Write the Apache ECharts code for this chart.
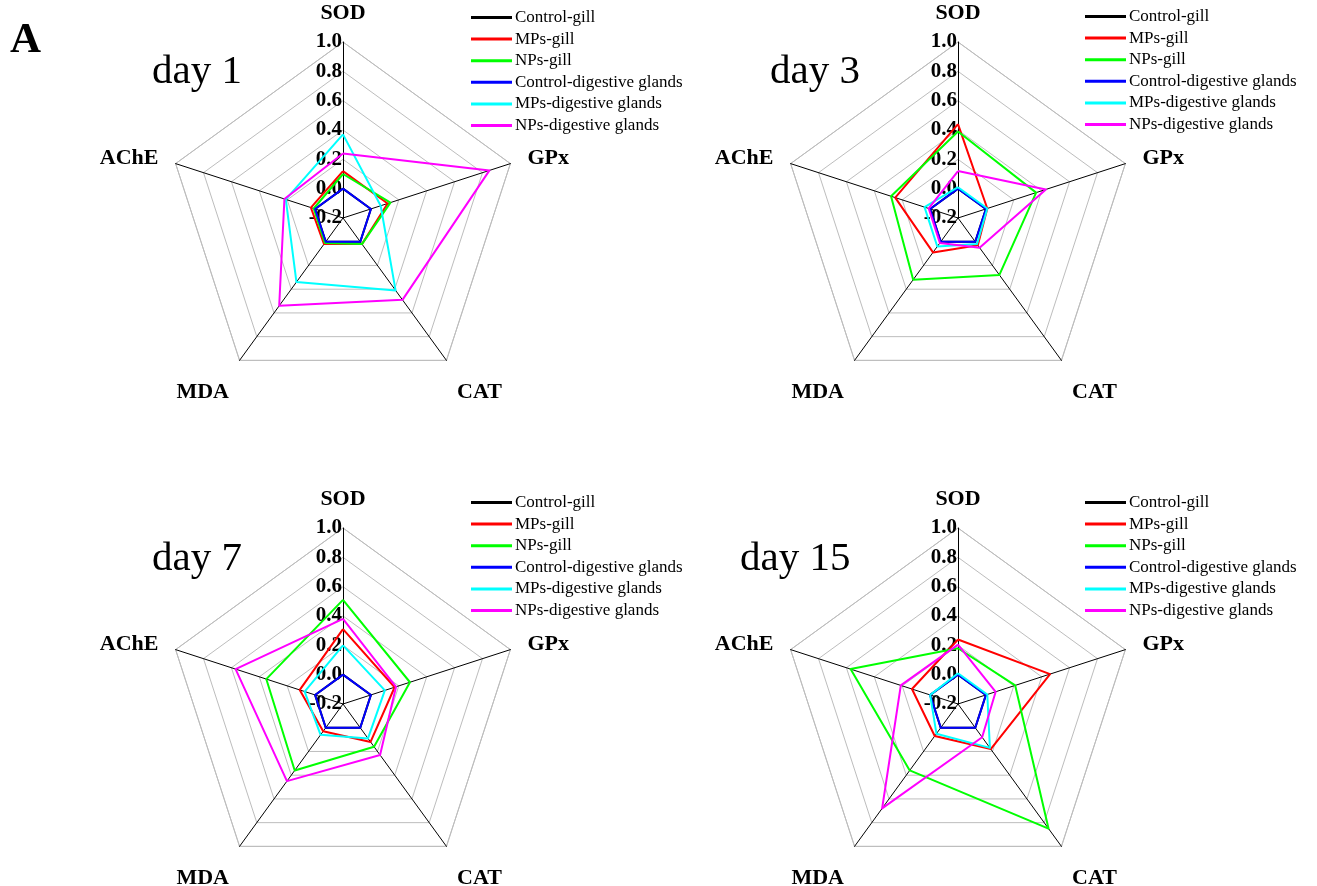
<!DOCTYPE html>
<html><head><meta charset="utf-8">
<script src="https://cdn.jsdelivr.net/npm/echarts@6/dist/echarts.min.js"></script>
<style>html,body{margin:0;padding:0;background:#fff}#c{width:1317px;height:886px}</style>
</head><body><div id="c"></div>
<script>
// indicator order as drawn by ECharts (counter-clockwise from top)
const indicators = ['SOD', 'AChE', 'MDA', 'CAT', 'GPx'];
const groups = ['Control-gill', 'MPs-gill', 'NPs-gill', 'Control-digestive glands', 'MPs-digestive glands', 'NPs-digestive glands'];
const groupColors = ['#000000', '#ff0000', '#00ff00', '#0000ff', '#00ffff', '#ff00ff'];
const days = ['day 1', 'day 3', 'day 7', 'day 15'];
const tickLabels = ['-0.2', '0.0', '0.2', '0.4', '0.6', '0.8', '1.0'];

// values per group in order [SOD, AChE, MDA, CAT, GPx]
const day1 = [
  [0, 0, 0, 0, 0],
  [0.12, 0.03, 0.02, 0.02, 0.12],
  [0.10, 0.01, 0.01, 0.02, 0.14],
  [0, 0, 0, 0, 0],
  [0.37, 0.21, 0.34, 0.41, 0.07],
  [0.24, 0.22, 0.54, 0.49, 0.85]
];
const day3 = [
  [0, 0, 0, 0, 0],
  [0.44, 0.25, 0.09, 0.03, 0.01],
  [0.39, 0.28, 0.32, 0.28, 0.36],
  [0, 0, 0, 0, 0],
  [0.01, 0.04, 0.04, 0.02, 0.01],
  [0.12, 0.01, 0.01, 0.05, 0.43]
];
const day7 = [
  [0, 0, 0, 0, 0],
  [0.31, 0.11, 0.03, 0.12, 0.17],
  [0.51, 0.35, 0.36, 0.16, 0.28],
  [0, 0, 0, 0, 0],
  [0.20, 0.075, 0.06, 0.09, 0.10],
  [0.38, 0.57, 0.45, 0.23, 0.18]
];
const day15 = [
  [0, 0, 0, 0, 0],
  [0.24, 0.13, 0.07, 0.18, 0.46],
  [0.18, 0.57, 0.36, 0.85, 0.21],
  [0, 0, 0, 0, 0],
  [0.01, 0.0, 0.05, 0.17, 0.01],
  [0.205, 0.21, 0.68, 0.08, 0.07]
];
const allDays = [day1, day3, day7, day15];

const SERIF = '"Liberation Serif", "Times New Roman", serif';
const centers = [[343, 218], [958, 218], [343, 704], [958, 704]];
const titlePos = [[152, 52], [770, 52], [152, 539], [740, 539]];
const legendPos = [[471, 9], [1085, 8], [471, 494], [1085, 494]];

const nameStyle = { color: '#000', fontFamily: SERIF, fontWeight: 'bold', fontSize: 22 };

const radars = centers.map(function (c) {
  return {
    center: c,
    radius: 176,
    startAngle: 90,
    shape: 'polygon',
    splitNumber: 6,
    axisNameGap: 18,
    indicator: indicators.map(function (n, i) {
      const ind = { name: n, min: -0.2, max: 1.0 };
      if (i === 0) {
        ind.axisLabel = {
          show: true, showMinLabel: true, showMaxLabel: true,
          color: '#000', fontFamily: SERIF, fontWeight: 'bold', fontSize: 21,
          margin: 1, padding: [5, 0, 0, 0],
          formatter: function (v) { return tickLabels[Math.round((v + 0.2) / 0.2)]; }
        };
      }
      return ind;
    }),
    axisName: {
      color: '#000', fontFamily: SERIF, fontWeight: 'bold', fontSize: 22,
      formatter: function (name) {
        return (name === 'MDA' || name === 'CAT') ? '{low|' + name + '}' : '{n|' + name + '}';
      },
      rich: {
        n: nameStyle,
        low: Object.assign({ padding: [34, 0, 0, 0] }, nameStyle)
      }
    },
    splitArea: { show: false },
    splitLine: { lineStyle: { color: '#bdbdbd', width: 1 } },
    axisLine: { lineStyle: { color: '#000', width: 1 } },
    axisTick: { show: false },
    axisLabel: { show: false }
  };
});

const series = allDays.map(function (d, k) {
  return {
    type: 'radar',
    radarIndex: k,
    symbol: 'none',
    silent: true,
    data: groups.map(function (g, i) {
      return {
        name: g,
        value: d[i],
        lineStyle: { color: groupColors[i], width: 2 },
        itemStyle: { color: groupColors[i] }
      };
    })
  };
});

const titles = [{ text: 'A', left: 10, top: 19, padding: 0, textStyle: { fontFamily: SERIF, fontWeight: 'bold', fontSize: 43, color: '#000' } }]
  .concat(days.map(function (t, k) {
    return { text: t, left: titlePos[k][0], top: titlePos[k][1], padding: 0, textStyle: { fontFamily: SERIF, fontWeight: 'normal', fontSize: 41, color: '#000' } };
  }));

const legends = legendPos.map(function (p) {
  return {
    orient: 'vertical', left: p[0], top: p[1], padding: 0,
    data: groups,
    icon: 'rect',
    itemWidth: 41, itemHeight: 3, itemGap: 4.6,
    selectedMode: false,
    textStyle: { fontFamily: SERIF, fontSize: 17, color: '#000', lineHeight: 17, padding: [0, 0, 0, -2] }
  };
});

const chart = echarts.init(document.getElementById('c'), null, { renderer: 'canvas' });
chart.setOption({
  animation: false,
  backgroundColor: '#fff',
  title: titles,
  legend: legends,
  radar: radars,
  series: series
});
</script></body></html>
